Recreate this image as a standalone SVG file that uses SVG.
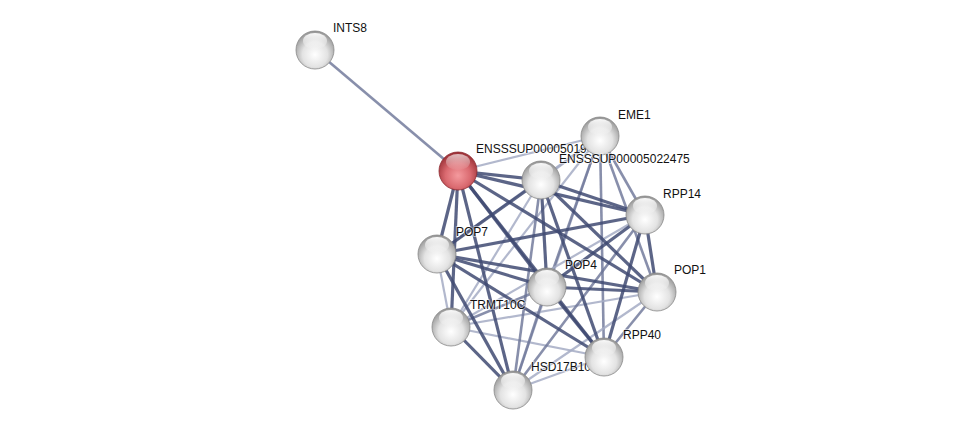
<svg xmlns="http://www.w3.org/2000/svg" width="975" height="434" viewBox="0 0 975 434">
<defs>
<radialGradient id="gw" cx="50%" cy="62%" r="60%">
<stop offset="0" stop-color="#ffffff"/>
<stop offset="0.55" stop-color="#e3e3e3"/>
<stop offset="1" stop-color="#979797"/>
</radialGradient>
<radialGradient id="gr" cx="50%" cy="62%" r="60%">
<stop offset="0" stop-color="#f49a9e"/>
<stop offset="0.55" stop-color="#da6a70"/>
<stop offset="1" stop-color="#9b3036"/>
</radialGradient>
<linearGradient id="hl" x1="0" y1="0" x2="0" y2="1">
<stop offset="0" stop-color="#ffffff" stop-opacity="0.95"/>
<stop offset="1" stop-color="#ffffff" stop-opacity="0.05"/>
</linearGradient>
<g id="ball">
<circle r="19" fill="url(#gw)" stroke="#888" stroke-width="0.8"/>
<ellipse cx="0" cy="-9" rx="12" ry="8" fill="url(#hl)"/>
</g>
<g id="rball">
<circle r="19" fill="url(#gr)" stroke="#8e2a30" stroke-width="0.8"/>
<ellipse cx="0" cy="-9" rx="12" ry="8" fill="url(#hl)" opacity="0.7"/>
</g>
</defs>
<style>
.d{stroke:#3f4a72;stroke-width:3.2;stroke-opacity:0.85}
.m{stroke:#6a7396;stroke-width:2.6;stroke-opacity:0.8}
.l{stroke:#a4abc4;stroke-width:2.2;stroke-opacity:0.85}
.t{font-family:"Liberation Sans",Arial,sans-serif;font-size:12px;fill:#111;stroke:#fff;stroke-width:2;stroke-opacity:0.5;paint-order:stroke}
</style>
<rect width="975" height="434" fill="#fff"/>
<g id="edges" fill="none">
<line class="m" x1="315" y1="50" x2="458" y2="171"/>
<line class="l" x1="458" y1="171" x2="600" y2="136"/>
<line class="l" x1="600" y1="136" x2="541" y2="180"/>
<line class="l" x1="600" y1="136" x2="437" y2="254"/>
<line class="l" x1="600" y1="136" x2="451" y2="327"/>
<line class="l" x1="600" y1="136" x2="513" y2="390"/>
<line class="m" x1="600" y1="136" x2="645" y2="215"/>
<line class="m" x1="600" y1="136" x2="547" y2="287"/>
<line class="m" x1="600" y1="136" x2="657" y2="292"/>
<line class="m" x1="600" y1="136" x2="604" y2="357"/>
<line class="l" x1="541" y1="180" x2="451" y2="327"/>
<line class="l" x1="645" y1="215" x2="451" y2="327"/>
<line class="l" x1="437" y1="254" x2="451" y2="327"/>
<line class="l" x1="657" y1="292" x2="451" y2="327"/>
<line class="l" x1="657" y1="292" x2="513" y2="390"/>
<line class="l" x1="451" y1="327" x2="604" y2="357"/>
<line class="l" x1="604" y1="357" x2="513" y2="390"/>
<line class="m" x1="547" y1="287" x2="451" y2="327"/>
<line class="m" x1="541" y1="180" x2="513" y2="390"/>
<line class="m" x1="645" y1="215" x2="513" y2="390"/>
<line class="m" x1="547" y1="287" x2="513" y2="390"/>
<line class="m" x1="657" y1="292" x2="604" y2="357"/>
<line class="d" x1="458" y1="171" x2="541" y2="180"/>
<line class="d" x1="458" y1="171" x2="645" y2="215"/>
<line class="d" x1="458" y1="171" x2="437" y2="254"/>
<line class="d" x1="458" y1="171" x2="547" y2="287"/>
<line class="d" x1="458" y1="171" x2="657" y2="292"/>
<line class="d" x1="458" y1="171" x2="451" y2="327"/>
<line class="d" x1="458" y1="171" x2="604" y2="357"/>
<line class="d" x1="458" y1="171" x2="513" y2="390"/>
<line class="d" x1="541" y1="180" x2="645" y2="215"/>
<line class="d" x1="541" y1="180" x2="437" y2="254"/>
<line class="d" x1="541" y1="180" x2="547" y2="287"/>
<line class="d" x1="541" y1="180" x2="657" y2="292"/>
<line class="d" x1="541" y1="180" x2="604" y2="357"/>
<line class="d" x1="645" y1="215" x2="437" y2="254"/>
<line class="d" x1="645" y1="215" x2="547" y2="287"/>
<line class="d" x1="645" y1="215" x2="657" y2="292"/>
<line class="d" x1="645" y1="215" x2="604" y2="357"/>
<line class="d" x1="437" y1="254" x2="547" y2="287"/>
<line class="d" x1="437" y1="254" x2="657" y2="292"/>
<line class="d" x1="437" y1="254" x2="604" y2="357"/>
<line class="d" x1="437" y1="254" x2="513" y2="390"/>
<line class="d" x1="547" y1="287" x2="657" y2="292"/>
<line class="d" x1="547" y1="287" x2="604" y2="357"/>
<line class="d" x1="451" y1="327" x2="513" y2="390"/>
</g>
<g id="node-INTS8"><use href="#ball" x="315" y="50"/><text class="t" x="333" y="32">INTS8</text></g>
<g id="node-ENSSSUP00005019"><use href="#rball" x="458" y="171"/><text class="t" x="476" y="153">ENSSSUP00005019</text></g>
<g id="node-POP7"><use href="#ball" x="437" y="254"/><text class="t" x="456" y="236">POP7</text></g>
<g id="node-TRMT10C"><use href="#ball" x="451" y="327"/><text class="t" x="470" y="309">TRMT10C</text></g>
<g id="node-HSD17B10"><use href="#ball" x="513" y="390"/><text class="t" x="531" y="371">HSD17B10</text></g>
<g id="node-RPP40"><use href="#ball" x="604" y="357"/><text class="t" x="623" y="339">RPP40</text></g>
<g id="node-POP4"><use href="#ball" x="547" y="287"/><text class="t" x="565" y="269">POP4</text></g>
<g id="node-POP1"><use href="#ball" x="657" y="292"/><text class="t" x="674" y="274">POP1</text></g>
<g id="node-RPP14"><use href="#ball" x="645" y="215"/><text class="t" x="663" y="198">RPP14</text></g>
<g id="node-EME1"><use href="#ball" x="600" y="136"/><text class="t" x="618" y="119">EME1</text></g>
<g id="node-ENSSSUP00005022475"><use href="#ball" x="541" y="180"/><text class="t" x="559" y="163">ENSSSUP00005022475</text></g>
</svg>
